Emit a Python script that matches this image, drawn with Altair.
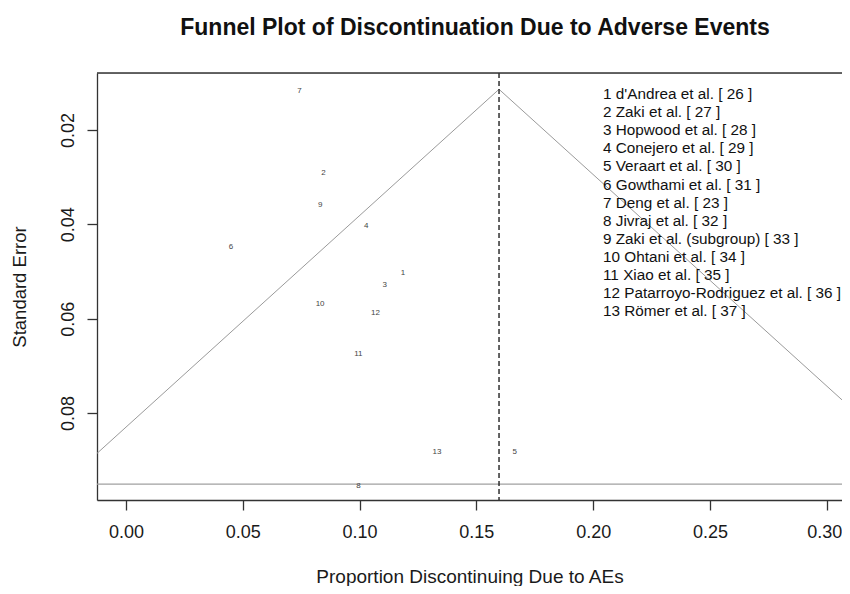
import altair as alt
import pandas as pd

# ---- data ----
study_ids = ["1", "2", "3", "4", "5", "6", "7", "8", "9", "10", "11", "12", "13"]
proportions = [0.1186, 0.0845, 0.1108, 0.1028, 0.1664, 0.0449, 0.0743, 0.0995,
               0.0831, 0.0831, 0.0995, 0.1068, 0.1331]
std_errors = [0.0503, 0.0292, 0.0529, 0.0404, 0.0883, 0.0448, 0.0117, 0.0954,
              0.0359, 0.0568, 0.0675, 0.0589, 0.0883]
study_names = [
    "d'Andrea et al. [ 26 ]", "Zaki et al. [ 27 ]", "Hopwood et al. [ 28 ]",
    "Conejero et al. [ 29 ]", "Veraart et al. [ 30 ]", "Gowthami et al. [ 31 ]",
    "Deng et al. [ 23 ]", "Jivraj et al. [ 32 ]", "Zaki et al. (subgroup) [ 33 ]",
    "Ohtani et al. [ 34 ]", "Xiao et al. [ 35 ]",
    "Patarroyo-Rodriguez et al. [ 36 ]", "Römer et al. [ 37 ]",
]
pooled = 0.1597
funnel_side = ["left", "left", "right", "right"]
funnel_x = [-0.01242, 0.1597, 0.1597, 0.30654]
funnel_se = [0.08856, 0.01137, 0.01137, 0.07722]
hline_se = 0.0951

x_domain = [-0.01242, 0.30654]
y_domain = [0.007915, 0.098445]
x_ticks = [0.00, 0.05, 0.10, 0.15, 0.20, 0.25, 0.30]
y_ticks = [0.02, 0.04, 0.06, 0.08]
title_text = "Funnel Plot of Discontinuation Due to Adverse Events"

W, H = 745, 427
FONT = "Liberation Sans"

pts = pd.DataFrame({"id": study_ids, "p": proportions, "se": std_errors})
funnel = pd.DataFrame({"side": funnel_side, "p": funnel_x, "se": funnel_se})
legend_lines = [f"{i} {n}" for i, n in zip(study_ids, study_names)]

xs = alt.Scale(domain=x_domain, nice=False, zero=False)
ys = alt.Scale(domain=y_domain, nice=False, zero=False, reverse=True)

x_axis = alt.Axis(values=x_ticks, format=".2f", title="Proportion Discontinuing Due to AEs",
                  grid=False, tickSize=10, labelPadding=13,
                  titleY=82, titleBaseline="alphabetic",
                  labelFontSize=18, titleFontSize=19, labelFont=FONT, titleFont=FONT,
                  titleFontWeight="normal", domainColor="#333", tickColor="#333",
                  domainWidth=1.3, tickWidth=1.3, labelColor="#1a1a1a", titleColor="#1a1a1a",
                  labelFlush=20, labelFlushOffset=15)
y_axis = alt.Axis(values=y_ticks, format=".2f", title="Standard Error",
                  grid=False, tickSize=10, labelPadding=10,
                  titleX=-72, titleBaseline="alphabetic",
                  labelAngle=270, labelAlign="center", labelBaseline="bottom",
                  labelFontSize=18, titleFontSize=18.5, labelFont=FONT, titleFont=FONT,
                  titleFontWeight="normal", domainColor="#333", tickColor="#333",
                  domainWidth=1.3, tickWidth=1.3, labelColor="#1a1a1a", titleColor="#1a1a1a",
                  labelFlush=False)

base = alt.Chart(pts)

funnel_lines = alt.Chart(funnel).mark_line(color="#9a9a9a", strokeWidth=1, clip=True).encode(
    x=alt.X("p:Q", scale=xs, axis=x_axis),
    y=alt.Y("se:Q", scale=ys, axis=y_axis),
    detail="side:N",
)

hline = alt.Chart(pd.DataFrame({"se": [hline_se]})).mark_rule(
    color="#a0a0a0", strokeWidth=1.2).encode(y=alt.Y("se:Q", scale=ys))

vline = alt.Chart(pd.DataFrame({"p": [pooled]})).mark_rule(
    color="#222", strokeWidth=1.4, strokeDash=[5, 3]).encode(x=alt.X("p:Q", scale=xs))

labels = base.mark_text(fontSize=8, font=FONT, color="#444").encode(
    x=alt.X("p:Q", scale=xs), y=alt.Y("se:Q", scale=ys), text="id:N")

top_border = alt.Chart(pd.DataFrame({"a": [0]})).mark_rule(color="#333", strokeWidth=1.3).encode(
    x=alt.value(0), x2=alt.value(W), y=alt.value(0))

legend = alt.Chart(pd.DataFrame({"a": [0]})).mark_text(
    text=legend_lines, align="left", baseline="alphabetic", lineHeight=18.1,
    fontSize=15.3, font=FONT, color="#111").encode(x=alt.value(506), y=alt.value(26))

title = alt.Chart(pd.DataFrame({"a": [0]})).mark_text(
    text=title_text, align="center", baseline="alphabetic", fontSize=23,
    fontWeight="bold", font=FONT, color="#111").encode(x=alt.value(378), y=alt.value(-38))

chart = alt.layer(funnel_lines, hline, vline, labels, top_border, legend, title).properties(
    width=W, height=H,
    autosize=alt.AutoSizeParams(type="none"),
    padding={"left": 89, "top": 65, "right": 0, "bottom": 86},
).configure_view(strokeWidth=0).configure(background="white")

chart.save("out.html", embed_options={"renderer": "svg", "actions": False})
